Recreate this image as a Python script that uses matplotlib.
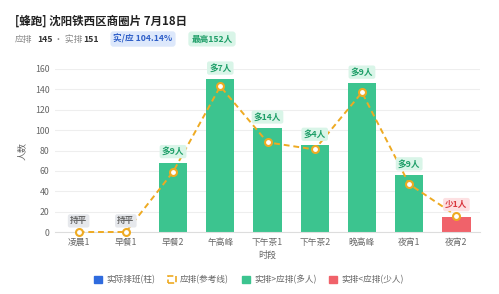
import numpy as np
import matplotlib
matplotlib.use('Agg')
import matplotlib.pyplot as plt
from matplotlib.patches import Patch

plt.rcParams['font.family'] = ['Noto Sans CJK SC', 'DejaVu Sans']

# data
slots = ['凌晨1', '早餐1', '早餐2', '午高峰', '下午茶1', '下午茶2', '晚高峰', '夜宵1', '夜宵2']
actual = [0, 0, 68, 150, 102, 85, 146, 56, 15]
planned = [0, 0, 59, 143, 88, 81, 137, 47, 16]
plan_total = 145
actual_total = 151
ratio_text = '实/应 104.14%'
peak_text = '最高152人'

GREEN = '#3cc48f'
RED = '#f0626a'
ORANGE = '#eeaa22'
BLUE = '#2f6bde'

W, H = 499, 294
fig = plt.figure(figsize=(W / 100, H / 100), dpi=100)

def fx(px):
    return px / W

def fy(py):
    return 1 - py / H

ax = fig.add_axes([fx(55), fy(232), fx(480) - fx(55), fy(69) - fy(232)])

x = np.arange(len(slots))
colors = [RED if a < p else GREEN for a, p in zip(actual, planned)]
ax.bar(x, actual, width=0.6, color=colors, zorder=2)
ax.plot(x, planned, linestyle=(0, (3, 2)), color=ORANGE, lw=1.4, zorder=3,
        marker='o', markersize=5, markerfacecolor='white',
        markeredgecolor=ORANGE, markeredgewidth=1.5, clip_on=False)

# difference badges
for i, (a, p) in enumerate(zip(actual, planned)):
    d = a - p
    if d > 0:
        txt, fc, bg = '多%d人' % d, '#1e9e68', '#d9f5e8'
    elif d < 0:
        txt, fc, bg = '少%d人' % -d, '#d9363e', '#fde0e2'
    else:
        txt, fc, bg = '持平', '#666666', '#e6e8ec'
    ax.annotate(txt, (i, max(a, p)), xytext=(0, 8), textcoords='offset points',
                ha='center', va='center', fontsize=6.2, fontweight='bold',
                color=fc, zorder=5,
                bbox=dict(boxstyle='round,pad=0.25', fc=bg, ec='none'))

ax.set_xlim(-0.5, len(slots) - 0.5)
ax.set_ylim(0, 160)
ax.set_yticks(range(0, 161, 20))
ax.set_xticks(x)
ax.set_xticklabels(slots)
ax.tick_params(length=0, labelsize=6.3, colors='#666666', pad=4)
ax.grid(axis='y', color='#eeeeee', lw=0.8, zorder=0)
for s in ['top', 'right', 'left']:
    ax.spines[s].set_visible(False)
ax.spines['bottom'].set_color('#dddddd')
ax.set_xlabel('时段', fontsize=6.5, color='#666666', labelpad=3)
ax.set_ylabel('人数', fontsize=6.5, color='#666666', labelpad=6)

# title and summary line
fig.text(fx(15), fy(21), '[蜂跑] 沈阳铁西区商圈片 7月18日', fontsize=8.3,
         fontweight='bold', color='#222222', va='center')
fig.text(fx(15), fy(39), '应排', fontsize=6.3, color='#888888', va='center')
fig.text(fx(37), fy(39), str(plan_total), fontsize=6.3, fontweight='bold', color='#333333', va='center')
fig.text(fx(54), fy(39), '· 实排', fontsize=6.3, color='#888888', va='center')
fig.text(fx(83), fy(39), str(actual_total), fontsize=6.3, fontweight='bold', color='#333333', va='center')
fig.text(fx(143), fy(39), ratio_text, fontsize=6.2, fontweight='bold', color='#2f5fc8',
         ha='center', va='center',
         bbox=dict(boxstyle='round,pad=0.35', fc='#dde8fb', ec='none'))
fig.text(fx(212), fy(39), peak_text, fontsize=6.2, fontweight='bold', color='#1e9e68',
         ha='center', va='center',
         bbox=dict(boxstyle='round,pad=0.35', fc='#d9f5e8', ec='none'))

# legend
handles = [
    Patch(facecolor=BLUE, edgecolor=BLUE, label='实际排班(柱)'),
    Patch(facecolor='none', edgecolor=ORANGE, linestyle='--', lw=1.2, label='应排(参考线)'),
    Patch(facecolor=GREEN, edgecolor=GREEN, label='实排>应排(多人)'),
    Patch(facecolor=RED, edgecolor=RED, label='实排<应排(少人)'),
]
leg = fig.legend(handles=handles, loc='center', bbox_to_anchor=(fx(249), fy(280)),
                 ncol=4, frameon=False, fontsize=6.2, handlelength=0.9, handleheight=0.9,
                 handletextpad=0.5, columnspacing=1.5)
for t in leg.get_texts():
    t.set_color('#666666')

fig.savefig('out.png', dpi=100)
